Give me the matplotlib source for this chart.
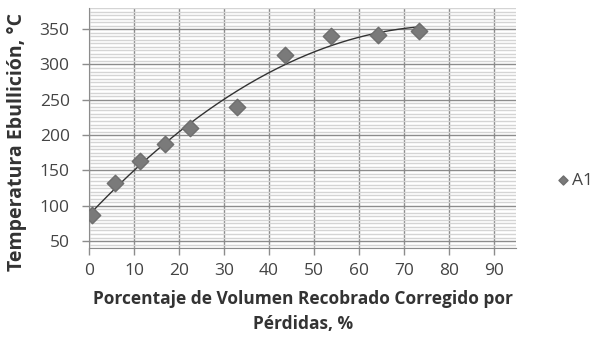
import numpy as np
import matplotlib.pyplot as plt
from matplotlib.ticker import MultipleLocator

plt.rcParams["font.family"] = ["Open Sans", "DejaVu Sans"]

# data
vol_pct = [0.6, 5.8, 11.3, 16.9, 22.4, 32.9, 43.6, 53.9, 64.3, 73.3]
temp_c = [87, 132, 164, 188, 210, 240, 313, 341, 342, 348]
series_name = "A1"
x_ticks = [0, 10, 20, 30, 40, 50, 60, 70, 80, 90]
y_ticks = [50, 100, 150, 200, 250, 300, 350]

fig = plt.figure(figsize=(5.98, 3.47), dpi=100)
ax = fig.add_axes([0.149, 0.285, 0.714, 0.692])

# grid: dense light minor lines, darker major ones
ax.yaxis.set_minor_locator(MultipleLocator(5))
ax.grid(True, which="minor", axis="y", color="#d4d4d4", lw=1.0, zorder=0)
ax.grid(True, which="major", axis="y", color="#8c8c8c", lw=1.0, zorder=1)
ax.grid(True, which="major", axis="x", color="#8c8c8c", lw=1.0, zorder=1)

# second order polynomial trendline
coef = np.polyfit(vol_pct, temp_c, 2)
xs = np.linspace(0, max(vol_pct), 200)
ax.plot(xs, np.polyval(coef, xs), color="#333333", lw=1.0, zorder=3)

ax.scatter(vol_pct, temp_c, marker="D", s=70, color="#7a7a7a",
           edgecolors="#6e6e6e", zorder=4, label=series_name)

ax.set_xlim(0, 95)
ax.set_ylim(40, 380)
ax.set_xticks(x_ticks)
ax.set_yticks(y_ticks)
ax.tick_params(axis="both", which="major", labelsize=12.5, colors="#8c8c8c",
               labelcolor="#444444", length=5, width=1)
ax.tick_params(axis="y", which="minor", length=0)
ax.tick_params(axis="x", pad=6)
ax.tick_params(axis="y", pad=9)

for s in ["top", "right"]:
    ax.spines[s].set_visible(False)
for s in ["left", "bottom"]:
    ax.spines[s].set_color("#8c8c8c")

ax.set_ylabel("Temperatura Ebullición, °C", fontsize=14, fontweight="bold",
              color="#333333", va="center")
ax.yaxis.set_label_coords(-0.168, 0.44)
ax.set_xlabel("Porcentaje de Volumen Recobrado Corregido por\nPérdidas, %",
              fontsize=12.5, fontweight="bold", color="#333333", labelpad=8,
              linespacing=1.5)

leg = fig.legend(loc="center left", bbox_to_anchor=(0.927, 0.48), frameon=False,
                 handletextpad=0.0, handlelength=1.0, borderpad=0,
                 borderaxespad=0, markerscale=0.55, fontsize=12.5)
for t in leg.get_texts():
    t.set_color("#444444")

fig.savefig("out.png", dpi=100)
